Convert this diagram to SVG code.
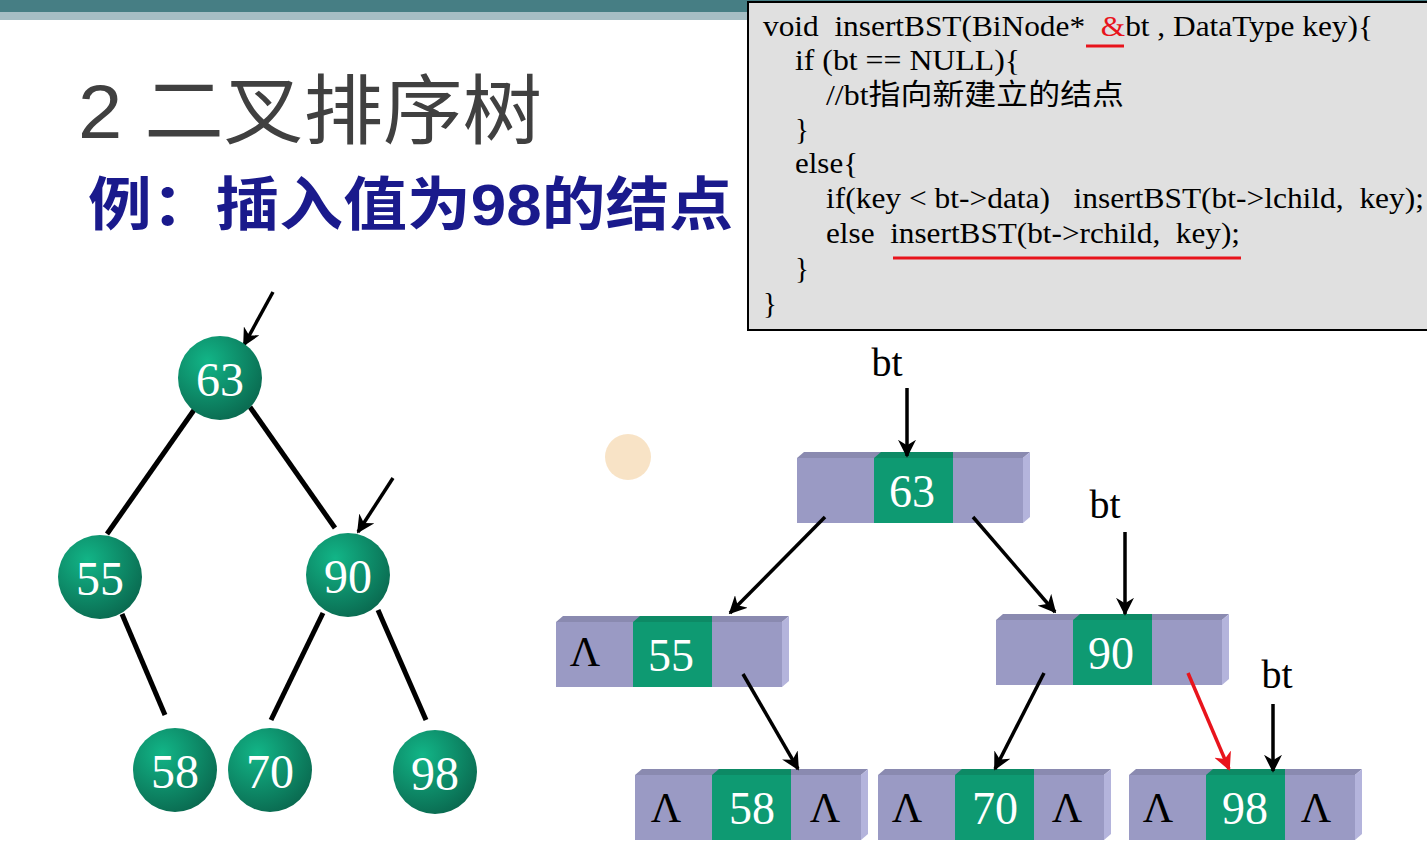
<svg xmlns="http://www.w3.org/2000/svg" width="1427" height="859" viewBox="0 0 1427 859">
<defs>
<radialGradient id="g" cx="0.35" cy="0.3" r="0.75"><stop offset="0" stop-color="#12b587"/><stop offset="1" stop-color="#0a6a50"/></radialGradient>
<marker id="ah" viewBox="0 0 10 10" refX="9" refY="5" markerWidth="18" markerHeight="18" orient="auto" markerUnits="userSpaceOnUse"><path d="M0,0L10,5L0,10L3,5z" fill="#000"/></marker>
<marker id="ab" viewBox="0 0 10 10" refX="9" refY="5" markerWidth="18" markerHeight="18" orient="auto" markerUnits="userSpaceOnUse"><path d="M0,0L10,5L0,10L3,5z" fill="#000"/></marker>
<marker id="ar" viewBox="0 0 10 10" refX="9" refY="5" markerWidth="18" markerHeight="18" orient="auto" markerUnits="userSpaceOnUse"><path d="M0,0L10,5L0,10L3,5z" fill="#e8141c"/></marker>
<g id="box">
<polygon points="0,0 7,-6 233,-6 226,0" fill="#8a8ab0"/>
<polygon points="226,0 233,-6 233,59 226,65" fill="#b4b4dc"/>
<rect x="0" y="0" width="226" height="65" fill="#9a9ac4"/>
<polygon points="77,0 84,-6 156,-6 156,0" fill="#0d8a65"/>
<rect x="77" y="0" width="79" height="65" fill="#0e9a72"/>
</g>
</defs>
<style>
.t{font-family:"Liberation Serif",serif}
.c{font-family:"Liberation Serif","Noto Sans CJK SC",serif;font-size:29px;fill:#000;white-space:pre}
.n{font-family:"Liberation Serif",serif;font-size:48px;fill:#fff;text-anchor:middle}
.bn{font-family:"Liberation Serif",serif;font-size:46px;fill:#fff;text-anchor:middle}
.lam{font-family:"Liberation Serif",serif;font-size:42px;fill:#000;text-anchor:middle}
.e{stroke:#000;stroke-width:5}
.a{stroke:#000;stroke-width:3.5;fill:none}
</style>
<rect width="1427" height="859" fill="#fff"/>
<rect x="0" y="0" width="1427" height="12" fill="#467e84"/>
<rect x="0" y="12" width="1427" height="8" fill="#a6bec4"/>
<text x="78" y="138" font-family="Liberation Sans,Noto Sans CJK SC,sans-serif" font-size="76" fill="#404040" textLength="464" lengthAdjust="spacingAndGlyphs">2 二叉排序树</text>
<text x="88" y="225" font-family="Liberation Sans,Noto Sans CJK SC,sans-serif" font-size="58" font-weight="bold" fill="#1a1a8c" textLength="645" lengthAdjust="spacingAndGlyphs">例：插入值为98的结点</text>
<g id="code">
<rect x="748" y="2" width="690" height="328" fill="#e0e0e0" stroke="#000" stroke-width="2"/>
<text class="c" x="763" y="36" textLength="610" lengthAdjust="spacingAndGlyphs" xml:space="preserve">void  insertBST(BiNode*  <tspan fill="#e8141c">&amp;</tspan>bt , DataType key){</text>
<text class="c" x="795" y="70" textLength="225" lengthAdjust="spacingAndGlyphs">if (bt == NULL){</text>
<text class="c" x="826" y="105" textLength="298" lengthAdjust="spacingAndGlyphs">//bt指向新建立的结点</text>
<text class="c" x="795" y="139">}</text>
<text class="c" x="795" y="173" textLength="63" lengthAdjust="spacingAndGlyphs">else{</text>
<text class="c" x="826" y="208" textLength="598" lengthAdjust="spacingAndGlyphs" xml:space="preserve">if(key &lt; bt-&gt;data)   insertBST(bt-&gt;lchild,  key);</text>
<text class="c" x="826" y="243" textLength="414" lengthAdjust="spacingAndGlyphs" xml:space="preserve">else  insertBST(bt-&gt;rchild,  key);</text>
<text class="c" x="795" y="278">}</text>
<text class="c" x="763" y="313">}</text>
<line x1="1086" y1="46" x2="1124" y2="46" stroke="#e8141c" stroke-width="3"/>
<line x1="893" y1="258" x2="1241" y2="258" stroke="#e8141c" stroke-width="3"/>
</g>
<g id="edges">
<line class="e" x1="194" y1="410" x2="107" y2="534"/>
<line class="e" x1="250" y1="407" x2="335" y2="528"/>
<line class="e" x1="122" y1="614" x2="165" y2="715"/>
<line class="e" x1="323" y1="613" x2="271" y2="720"/>
<line class="e" x1="378" y1="610" x2="426" y2="720"/>
<line class="a" x1="273" y1="292" x2="244" y2="345" marker-end="url(#ah)"/>
<line class="a" x1="393" y1="478" x2="358" y2="532" marker-end="url(#ah)"/>
</g>
<g id="n63"><circle cx="220" cy="378" r="42" fill="url(#g)"/><text class="n" x="220" y="396">63</text></g>
<g id="n55"><circle cx="100" cy="577" r="42" fill="url(#g)"/><text class="n" x="100" y="595">55</text></g>
<g id="n90"><circle cx="348" cy="575" r="42" fill="url(#g)"/><text class="n" x="348" y="593">90</text></g>
<g id="n58"><circle cx="175" cy="770" r="42" fill="url(#g)"/><text class="n" x="175" y="788">58</text></g>
<g id="n70"><circle cx="270" cy="770" r="42" fill="url(#g)"/><text class="n" x="270" y="788">70</text></g>
<g id="n98"><circle cx="435" cy="772" r="42" fill="url(#g)"/><text class="n" x="435" y="790" fill="#f4f08a">98</text></g>
<circle cx="628" cy="457" r="23" fill="#f6dcb8" opacity="0.8"/>
<g id="b63"><use href="#box" x="797" y="458"/><text class="bn" x="912" y="507">63</text></g>
<g id="b55"><use href="#box" x="556" y="622"/><text class="lam" x="585" y="666">Λ</text><text class="bn" x="671" y="671">55</text></g>
<g id="b90"><use href="#box" x="996" y="620"/><text class="bn" x="1111" y="669">90</text></g>
<g id="b58"><use href="#box" x="635" y="775"/><text class="lam" x="666" y="822">Λ</text><text class="bn" x="752" y="824">58</text><text class="lam" x="825" y="822">Λ</text></g>
<g id="b70"><use href="#box" x="878" y="775"/><text class="lam" x="907" y="822">Λ</text><text class="bn" x="995" y="824">70</text><text class="lam" x="1067" y="822">Λ</text></g>
<g id="b98"><use href="#box" x="1129" y="775"/><text class="lam" x="1158" y="822">Λ</text><text class="bn" x="1245" y="824">98</text><text class="lam" x="1316" y="822">Λ</text></g>
<g id="labels">
<text class="t" x="887" y="376" font-size="40" text-anchor="middle">bt</text>
<text class="t" x="1105" y="518" font-size="40" text-anchor="middle">bt</text>
<text class="t" x="1277" y="688" font-size="40" text-anchor="middle">bt</text>
</g>
<g id="connectors">
<line class="a" x1="907" y1="388" x2="907" y2="456" marker-end="url(#ab)"/>
<line class="a" x1="1125" y1="532" x2="1125" y2="614" marker-end="url(#ab)"/>
<line class="a" x1="1273" y1="704" x2="1273" y2="771" marker-end="url(#ab)"/>
<line class="a" x1="825" y1="517" x2="730" y2="613" marker-end="url(#ab)"/>
<line class="a" x1="973" y1="517" x2="1055" y2="612" marker-end="url(#ab)"/>
<line class="a" x1="743" y1="674" x2="798" y2="769" marker-end="url(#ab)"/>
<line class="a" x1="1044" y1="673" x2="995" y2="769" marker-end="url(#ab)"/>
<line x1="1188" y1="673" x2="1229" y2="769" stroke="#e8141c" stroke-width="3.5" marker-end="url(#ar)"/>
</g>
</svg>
